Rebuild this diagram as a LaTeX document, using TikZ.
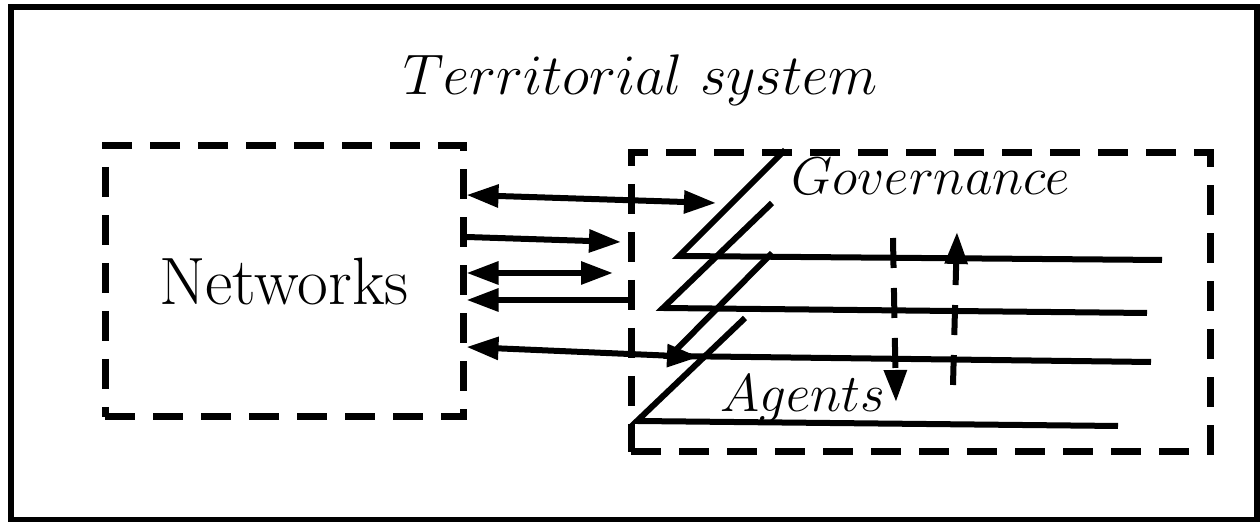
\RequirePackage{fix-cm}
\documentclass[tikz,border=0pt]{standalone}
\usetikzlibrary{arrows.meta,positioning}
\begin{document}
\begin{tikzpicture}[x=0.5pt, y=-0.5pt, line width=3pt,
	>={Triangle[length=16pt,width=11pt]},
	dashbox/.style={draw, line width=3.5pt, dash pattern=on 15pt off 9pt, inner sep=0pt},
	vflow/.style={dash pattern=on 15pt off 10pt},
	layer/.style={line join=miter},
	bigtext/.style={font=\fontsize{28.6}{34}\selectfont},
	midtext/.style={font=\fontsize{26.6}{32}\selectfont}]
%\draw[style=help lines, step=50] (0,0) grid (1260,522);

\useasboundingbox (0,0) rectangle (1260,522);

% territorial system
\draw (11,7.5) rectangle (1257,520);
	\node[bigtext, anchor=base] (title) at (640.5,95) {$Territorial\ system$};

% networks
\node[dashbox, minimum width=179pt, minimum height=135.5pt, font=\fontsize{33.5}{40}\selectfont] (net) at (284,281.5) {Networks};

% governance and agents
\node[dashbox, minimum width=289.5pt, minimum height=149.5pt] (gov) at (920.5,302.5) {};
\draw[layer] (785,150) -- (679,256) -- (1162,260);
\draw[layer] (772,203) -- (663,308) -- (1147,313);
\draw[layer] (772,253) -- (670,356) -- (1151,362);
\draw[layer] (745,318) -- (637,421) -- (1118,426);
	\node[midtext, anchor=base] (govlabel) at (931,195) {$Governance$};
	\node[midtext, anchor=base] (agentslabel) at (803,412) {$Agents$};

% down and up
\coordinate (downtop) at (893,238);
\coordinate (downend) at (896,402);
\coordinate (upstart) at (953,385);
\coordinate (upend) at (957,232);
\draw[->, vflow] (downtop) -- (downend);
\draw[->, vflow] (upstart) -- (upend);

% links
\coordinate (a1) at (716,203);
\coordinate (a2) at (621,242);
\coordinate (a3) at (613,273);
\coordinate (a5) at (699,357);
\draw[<->] (net.east |- 0,195) -- (a1);
\draw[->] (net.east |- 0,237) -- (a2);
\draw[<->] (net.east |- a3) -- (a3);
\draw[->] (gov.west |- 0,300) -- (net.east |- 0,300);
\draw[<->] (net.east |- 0,347) -- (a5);
\end{tikzpicture}
\end{document}
